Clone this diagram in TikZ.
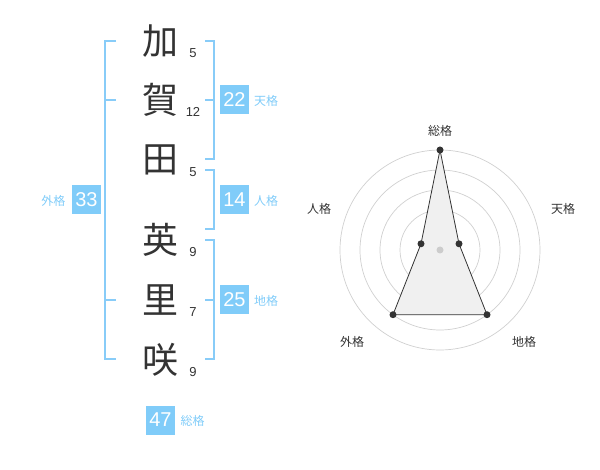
\documentclass[tikz,border=0pt]{standalone}
\usepackage{fontspec}
\setmainfont{Liberation Sans}
\newfontfamily\jp{Noto Sans CJK JP}
\definecolor{brk}{HTML}{88CCF8}
\definecolor{boxc}{HTML}{80CCF9}
\definecolor{ink}{HTML}{333333}
\definecolor{ring}{HTML}{D0D0D0}
\begin{document}
\begin{tikzpicture}[x=1pt,y=-1pt,
  kanji/.style={text=ink,inner sep=0pt,font=\jp\fontsize{36}{36}\selectfont},
  strokes/.style={text=ink,inner sep=0pt,font=\fontsize{13}{13}\selectfont},
  numbox/.style={fill=boxc,text=white,minimum width=29pt,minimum height=29pt,inner sep=0pt,font=\fontsize{20}{20}\selectfont},
  lbl/.style={text=boxc,inner sep=0pt,font=\jp\fontsize{12}{12}\selectfont},
  bracket/.style={draw=brk,line width=2pt},
  rlbl/.style={text=ink,inner sep=0pt,font=\jp\fontsize{12}{12}\selectfont},
  ringc/.style={draw=ring,line width=0.7pt},
  pt/.style={circle,fill=ink,inner sep=0pt,minimum size=7pt}]
\useasboundingbox (0,0) rectangle (600,470);
% characters
\node[kanji] (k1) at (160.5,41) {加};
\node[kanji] (k2) at (160.5,100) {賀};
\node[kanji] (k3) at (160.5,160) {田};
\node[kanji] (k4) at (160.5,240) {英};
\node[kanji] (k5) at (160.5,300) {里};
\node[kanji] (k6) at (160.5,360) {咲};
% stroke counts
\node[strokes] (s1) at (193,53) {5};
\node[strokes] (s2) at (193,112) {12};
\node[strokes] (s3) at (193,172) {5};
\node[strokes] (s4) at (193,252) {9};
\node[strokes] (s5) at (193,312) {7};
\node[strokes] (s6) at (193,372) {9};
% left bracket (gaikaku)
\coordinate (la) at (105,41); \coordinate (lat) at (116,41);
\coordinate (lb) at (105,100); \coordinate (lbt) at (116,100);
\coordinate (lc) at (105,300); \coordinate (lct) at (116,300);
\coordinate (ld) at (105,359); \coordinate (ldt) at (116,359);
\draw[bracket] (lat) -- (la) -- (ld) -- (ldt);
\draw[bracket] (lb) -- (lbt);
\draw[bracket] (lc) -- (lct);
% tenkaku bracket
\coordinate (ta) at (214,41); \coordinate (tat) at (205,41);
\coordinate (tb) at (214,100); \coordinate (tbt) at (205,100);
\coordinate (tc) at (214,159); \coordinate (tct) at (205,159);
\draw[bracket] (tat) -- (ta) -- (tc) -- (tct);
\draw[bracket] (tb) -- (tbt);
% jinkaku bracket
\coordinate (ja) at (214,170); \coordinate (jat) at (205,170);
\coordinate (jb) at (214,229); \coordinate (jbt) at (205,229);
\draw[bracket] (jat) -- (ja) -- (jb) -- (jbt);
% chikaku bracket
\coordinate (ca) at (214,240); \coordinate (cat) at (205,240);
\coordinate (cb) at (214,300); \coordinate (cbt) at (205,300);
\coordinate (cc) at (214,359); \coordinate (cct) at (205,359);
\draw[bracket] (cat) -- (ca) -- (cc) -- (cct);
\draw[bracket] (cb) -- (cbt);
% number boxes and labels
\node[numbox] (n22) at (234.5,100) {22};
\node[lbl] (t22) at (266,101) {天格};
\node[numbox] (n14) at (234.5,200) {14};
\node[lbl] (t14) at (266,201) {人格};
\node[numbox] (n25) at (234.5,300) {25};
\node[lbl] (t25) at (266,301) {地格};
\node[numbox] (n33) at (86.5,200) {33};
\node[lbl] (t33) at (53.5,201) {外格};
\node[numbox] (n47) at (160.5,420) {47};
\node[lbl] (t47) at (192.5,421) {総格};
% radar chart
\coordinate (c) at (440,250);
\foreach \r in {20,40,60,80,100} \draw[ringc] (c) circle[radius=\r];
\coordinate (p1) at (440,150);
\coordinate (p2) at (459.0,243.8);
\coordinate (p3) at (487.0,314.7);
\coordinate (p4) at (393.0,314.7);
\coordinate (p5) at (421.0,243.8);
\filldraw[fill=black!6,draw=ink,line width=0.8pt,line join=round] (p1) -- (p2) -- (p3) -- (p4) -- (p5) -- cycle;
\node[circle,fill=black!20,inner sep=0pt,minimum size=7pt] (cdot) at (c) {};
\foreach \p in {p1,p2,p3,p4,p5} \node[pt] at (\p) {};
\node[rlbl] (r1) at (440,130.5) {総格};
\node[rlbl] (r2) at (563,208.5) {天格};
\node[rlbl] (r3) at (524,341.5) {地格};
\node[rlbl] (r4) at (352,341.5) {外格};
\node[rlbl] (r5) at (319,208.5) {人格};
\end{tikzpicture}
\end{document}
